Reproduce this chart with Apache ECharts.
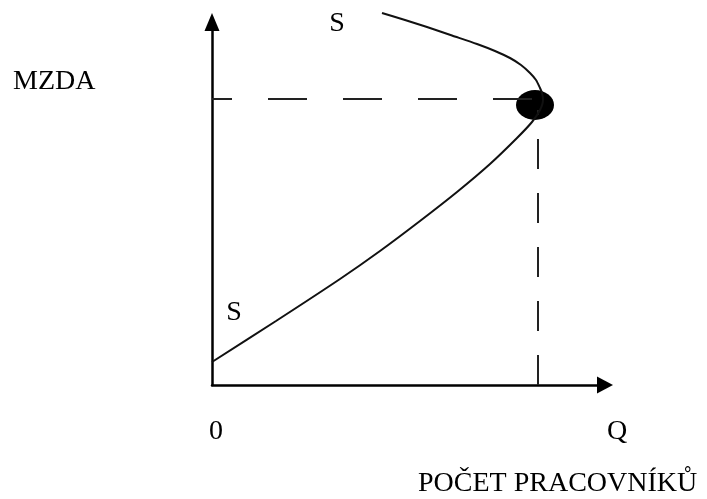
<!DOCTYPE html>
<html>
<head>
<meta charset="utf-8">
<script src="https://cdn.jsdelivr.net/npm/echarts@6/dist/echarts.min.js"></script>
<style>html,body{margin:0;padding:0;background:#fff;}#c{width:707px;height:499px;}</style>
</head>
<body>
<div id="c"></div>
<script>
// Supply curve S (Q = number of workers, W = wage), in chart units
const curveQ = [0, 64, 128, 168, 208, 245, 278, 305, 320, 328, 331, 330, 328, 324, 318, 309, 298, 283, 265, 240, 215, 193, 170];
const curveW = [23, 64, 106, 134, 164, 193, 221, 247, 263, 275, 285, 292, 297, 305, 312, 320, 327, 334, 341, 349.5, 358, 365, 372];
// Equilibrium point
const pointQ = 323, pointW = 280;
// Dashed guide lines
const guideWage = 286;
const guideQ = 326;
const guideTopW = 275;
// Labels
const yTitle = 'MZDA';
const xTitle = 'POČET PRACOVNÍKŮ';
const originLabel = '0';
const xEndLabel = 'Q';
const curveLabel = 'S';

const curveData = curveQ.map((q, i) => [q, curveW[i]]);
const FONT = '"Liberation Serif", "Times New Roman", serif';
const txt = (text, x, y, align) => ({
  type: 'text', x: x, y: y,
  style: { text: text, fill: '#000', font: '28px ' + FONT, textAlign: align || 'center', textVerticalAlign: 'middle' }
});

const chart = echarts.init(document.getElementById('c'));
chart.setOption({
  animation: false,
  backgroundColor: '#fff',
  grid: { left: 212, top: 22, width: 393, height: 363 },
  xAxis: {
    type: 'value', min: 0, max: 393,
    axisLine: { show: true, onZero: false, lineStyle: { color: '#000', width: 2.5 }, symbol: ['none', 'triangle'], symbolSize: [17, 16] },
    axisTick: { show: false }, axisLabel: { show: false }, splitLine: { show: false }
  },
  yAxis: {
    type: 'value', min: 0, max: 363,
    axisLine: { show: true, onZero: false, lineStyle: { color: '#000', width: 2.5 }, symbol: ['none', 'triangle'], symbolSize: [15, 18] },
    axisTick: { show: false }, axisLabel: { show: false }, splitLine: { show: false }
  },
  series: [
    {
      type: 'line', data: [[0, guideWage], [pointQ, guideWage]], symbol: 'none', clip: false,
      lineStyle: { color: '#222', width: 2, type: [39, 36], dashOffset: 19 }
    },
    {
      type: 'line', data: [[guideQ, 0], [guideQ, guideTopW]], symbol: 'none', clip: false,
      lineStyle: { color: '#222', width: 2, type: [30, 24] }
    },
    {
      type: 'line', data: curveData, symbol: 'none', smooth: 0.25, clip: false,
      lineStyle: { color: '#111', width: 2 }
    },
    {
      type: 'scatter', data: [[pointQ, pointW]], symbol: 'circle', symbolSize: [38, 30],
      itemStyle: { color: '#000', opacity: 1 }, clip: false
    }
  ],
  graphic: [
    txt(yTitle, 13, 82, 'left'),
    txt(curveLabel, 337, 24),
    txt(curveLabel, 234, 313),
    txt(originLabel, 216, 432),
    txt(xEndLabel, 617, 432),
    txt(xTitle, 418, 484, 'left')
  ]
});
</script>
</body>
</html>
